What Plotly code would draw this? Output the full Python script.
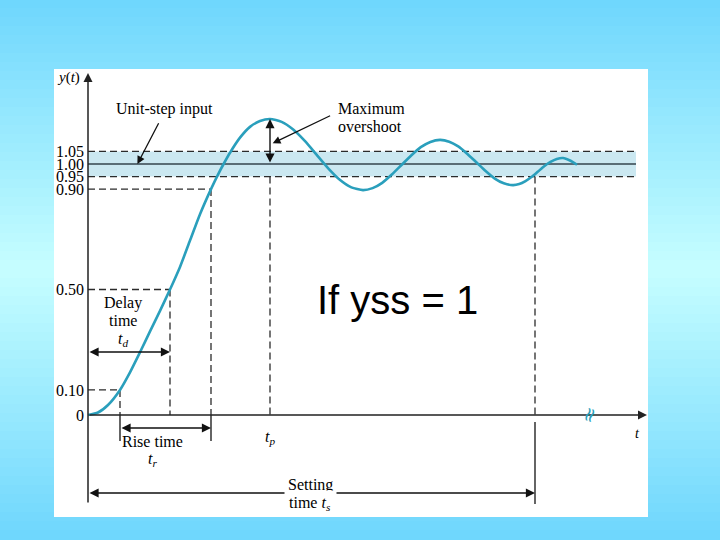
import plotly.graph_objects as go

# ---------------- data ----------------
# step response y(t)  (time in arbitrary units, response in units of y_ss)
t_curve = [0, 0.5, 1.0, 1.6, 2.1, 2.6, 3.1, 3.6, 4.1, 4.6,
           5.1, 5.6, 6.15, 6.5, 6.8, 7.1, 7.6, 8.1, 8.6, 9.1,
           9.68, 10.26, 10.84, 11.425, 12.01, 12.59, 13.17, 13.75,
           14.23, 14.71, 15.19, 15.675, 16.16, 16.64, 17.12, 17.6,
           18.06, 18.51, 18.97, 19.43, 19.88, 20.34, 20.79, 21.25,
           21.56, 21.875, 22.19, 22.5, 22.81, 23.125, 23.44, 23.75,
           24.1, 24.45]
y_curve = [0, 0.01, 0.04, 0.10, 0.17, 0.25, 0.333, 0.415, 0.50, 0.59,
           0.695, 0.80, 0.90, 0.958, 1.003, 1.045, 1.105, 1.148, 1.171, 1.179,
           1.168, 1.1375, 1.092, 1.0375, 0.983, 0.9375, 0.907, 0.896,
           0.904, 0.925, 0.958, 0.996, 1.034, 1.067, 1.088, 1.096,
           1.089, 1.070, 1.040, 1.006, 0.972, 0.942, 0.923, 0.916,
           0.920, 0.932, 0.949, 0.970, 0.991, 1.008, 1.020, 1.024,
           1.014, 0.997]

# y-axis tick values / labels
y_ticks = [0, 0.10, 0.50, 0.90, 0.95, 1.00, 1.05]
y_tick_labels = ["0", "0.10", "0.50", "0.90", "0.95", "1.00", "1.05"]

# characteristic times
t_10 = 1.6      # 10 % point
t_d = 4.1       # delay time (50 %)
t_90 = 6.15     # 90 % point (end of rise time)
t_p = 9.1       # peak time
t_s = 22.35     # settling time
y_peak = 1.179  # maximum value
y_ss = 1.0
band_lo, band_hi = 0.95, 1.05
t_band_end = 27.4
t_axis_end = 27.95

# ---------------- styling ----------------
TEAL = "#2a9fbc"
SERIF = "Liberation Serif, Times New Roman, serif"
DASH = "7px,4px"
LC = "#2b2b2b"

fig = go.Figure()

fig.add_trace(go.Scatter(
    x=t_curve, y=y_curve, mode="lines",
    line=dict(color=TEAL, width=2.6, shape="spline", smoothing=0.6),
    hoverinfo="skip", showlegend=False))

shapes = []

# background vertical gradient (paper coords)
top = (110, 214, 253)
mid = (198, 254, 255)
n = 60
for i in range(n):
    f = (i + 0.5) / n
    w = 1 - abs(f - 0.5) * 2
    c = tuple(round(top[k] + (mid[k] - top[k]) * w) for k in range(3))
    shapes.append(dict(type="rect", xref="paper", yref="paper",
                       x0=0, x1=1, y0=1 - i / n + 0.002, y1=1 - (i + 1) / n - 0.002,
                       fillcolor="rgb(%d,%d,%d)" % c, line=dict(width=0), layer="below"))
# white panel
shapes.append(dict(type="rect", xref="paper", yref="paper",
                   x0=54 / 720, x1=648 / 720, y0=1 - 517 / 540, y1=1 - 69 / 540,
                   fillcolor="white", line=dict(width=0), layer="below"))
# tolerance band
shapes.append(dict(type="rect", xref="x", yref="y", x0=0, x1=t_band_end,
                   y0=band_lo, y1=band_hi, fillcolor="#cbe8f1",
                   line=dict(width=0), layer="below"))


def hline(y, x0, x1, dash=DASH, w=1.3, color=LC):
    shapes.append(dict(type="line", xref="x", yref="y", x0=x0, x1=x1, y0=y, y1=y,
                       line=dict(color=color, width=w, dash=dash), layer="below"))


def vline(x, y0, y1, dash=DASH, w=1.3, color=LC):
    shapes.append(dict(type="line", xref="x", yref="y", x0=x, x1=x, y0=y0, y1=y1,
                       line=dict(color=color, width=w, dash=dash), layer="below"))


hline(band_hi, 0, t_band_end)
hline(band_lo, 0, t_band_end)
hline(y_ss, 0, t_band_end, dash="solid", w=1.6, color="#34454c")
hline(0.90, 0, t_90)
hline(0.50, 0, t_d)
hline(0.10, 0, t_10)
vline(t_90, 0.90, 0)
vline(t_d, 0.50, 0)
vline(t_10, 0.10, 0)
vline(t_p, band_lo, 0)
vline(t_s, band_lo, 0)
# solid brackets below axis
vline(t_10, 0, -0.1036, dash="solid", w=1.3, color="#111")
vline(t_90, 0, -0.1036, dash="solid", w=1.3, color="#111")
vline(t_s, -0.028, -0.355, dash="solid", w=1.3, color="#111")

annotations = []


def arrow(x, y, ax, ay, both=False, size=1.3, width=1.4, color="#111"):
    annotations.append(dict(
        x=x, y=y, ax=ax, ay=ay, xref="x", yref="y", axref="x", ayref="y",
        text="", showarrow=True, arrowhead=2, arrowsize=size, arrowwidth=width,
        arrowcolor=color, arrowside="end+start" if both else "end",
        startarrowhead=2, startarrowsize=size, standoff=0, startstandoff=0))


def label(x, y, text, size=16, xanchor="center", family=SERIF, color="black",
          bg=None, pad=1, angle=0):
    d = dict(x=x, y=y, xref="x", yref="y", text=text, showarrow=False,
             xanchor=xanchor, yanchor="middle", textangle=angle,
             font=dict(family=family, size=size, color=color), borderpad=pad)
    if bg:
        d["bgcolor"] = bg
    annotations.append(d)


# axes
arrow(t_axis_end, 0, 0, 0, size=1.2, width=1.5, color="#222")
arrow(0, 1.3625, 0, -0.355, size=1.2, width=1.5, color="#222")

# delay time
arrow(t_d, 0.251, 0, 0.251, both=True)
label(1.77, 0.447, "Delay")
label(1.77, 0.378, "time")
label(1.77, 0.299, "<i>t</i><sub><i>d</i></sub>")

# rise time
arrow(t_90, -0.0518, t_10, -0.0518, both=True)
label(3.2, -0.1036, "Rise time")
label(3.2, -0.179, "<i>t</i><sub><i>r</i></sub>")

# peak time
label(t_p, -0.0916, "<i>t</i><sub><i>p</i></sub>")

# settling time
arrow(t_s, -0.311, 0, -0.311, both=True)
label(11.1, -0.279, "Setting", bg="white", pad=3)
label(11.1, -0.351, "time <i>t</i><sub><i>s</i></sub>", bg="white", pad=3)

# maximum overshoot
arrow(t_p, y_peak, t_p, y_ss, both=True)
arrow(9.235, 1.0825, 12.18, 1.195, size=1.2, width=1.3)
label(12.4, 1.222, "Maximum", xanchor="left")
label(12.4, 1.151, "overshoot", xanchor="left")

# unit-step input
label(3.83, 1.219, "Unit-step input")
arrow(2.47, 1.0, 3.57, 1.1685, size=1.2, width=1.3)

# axis names
label(-1.0, 1.343, "<i>y</i>(<i>t</i>)", size=15)
label(27.45, -0.072, "<i>t</i>", size=14)
label(25.05, 0.0, "≈", size=20, color=TEAL, angle=-70, family="DejaVu Sans")

# big note
label(15.45, 0.458, "If yss = 1", size=40, family="Liberation Sans, Arial, sans-serif")

fig.update_layout(
    width=720, height=540,
    margin=dict(l=0, r=0, t=0, b=0, pad=0),
    paper_bgcolor="rgb(160,236,254)",
    plot_bgcolor="rgba(0,0,0,0)",
    shapes=shapes, annotations=annotations, showlegend=False,
    xaxis=dict(range=[-4.4, 31.6], visible=False, domain=[0, 1]),
    yaxis=dict(range=[-0.498, 1.6534], anchor="free", position=88 / 720,
               tickvals=y_ticks, ticktext=y_tick_labels, ticks="",
               showgrid=False, zeroline=False, showline=False,
               tickfont=dict(family=SERIF, size=16, color="black"),
               ticklabelstandoff=4),
)

fig.write_html("out.html", config={"displayModeBar": False},
               post_script="document.body.style.margin='0';document.body.style.padding='0';")
